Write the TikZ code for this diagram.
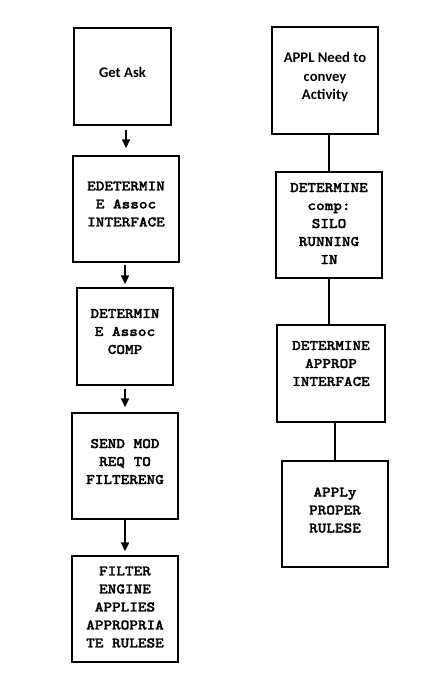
\documentclass[tikz,border=0pt]{standalone}
\usepackage{fontspec}
\usetikzlibrary{arrows.meta}
\newfontfamily\calib{Carlito}
\newfontfamily\couri{lmmonolt10-bold}[Extension=.otf, FakeStretch=1.12, FakeBold=1.6]

\tikzset{
    stepbox/.style={draw, line width=1.3pt, align=center, inner sep=2pt,
        font=\couri\fontsize{11}{13.5}\selectfont},
    sansbox/.style={stepbox, font=\calib\bfseries\fontsize{11}{13.9}\selectfont},
    lift/.style={text depth=#1},
}

\begin{document}
\begin{tikzpicture}[x=0.75pt,y=-0.75pt,>={Triangle[length=6.5pt,width=6pt]}]

    \useasboundingbox (0,0) rectangle (422,684);

    %%% LEFT COLUMN

    \node[sansbox, lift=6.8pt, minimum width=72.75pt, minimum height=72.75pt] (getask) at (122.5,76.5) {Get Ask};
    \node[stepbox, lift=7.5pt, minimum width=79.5pt, minimum height=79.5pt] (associf) at (126,209) {EDETERMIN\\E Assoc\\INTERFACE};
    \node[stepbox, lift=7.5pt, minimum width=72pt, minimum height=72.75pt] (assoccomp) at (125,336.5) {DETERMIN\\E Assoc\\COMP};
    \node[stepbox, lift=6.75pt, minimum width=79.5pt, minimum height=79.5pt] (sendmod) at (125,466) {SEND MOD\\REQ TO\\FILTERENG};
    \node[stepbox, lift=3pt, minimum width=79.5pt, minimum height=79.5pt] (filtereng) at (125,609) {FILTER\\ENGINE\\APPLIES\\APPROPRIA\\TE RULESE};

    % Arrows
    \draw[->, line width=1.3pt, shorten <=3pt, shorten >=5.25pt] (associf.north |- getask.south) -- (associf.north);
    \draw[->, line width=1.3pt, shorten <=1.5pt, shorten >=2.25pt] (assoccomp.north |- associf.south) -- (assoccomp.north);
    \draw[->, line width=1.3pt, shorten <=2.25pt, shorten >=3.75pt] (sendmod.north |- assoccomp.south) -- (sendmod.north);
    \draw[->, line width=1.3pt, shorten >=3pt] (sendmod.south) -- (filtereng.north);

    %%% RIGHT COLUMN

    \node[sansbox, lift=6.9pt, minimum width=79.5pt, minimum height=80.25pt] (applneed) at (325,80.5) {APPL Need to\\convey\\Activity};
    \node[stepbox, lift=2.2pt, minimum width=79.5pt, minimum height=79.5pt] (silo) at (329,225) {DETERMINE\\comp:\\SILO\\RUNNING\\IN};
    \node[stepbox, lift=15pt, minimum width=81pt, minimum height=72.75pt] (approp) at (331,373.5) {DETERMINE\\APPROP\\INTERFACE};
    \node[stepbox, lift=6pt, minimum width=79.5pt, minimum height=79.5pt] (proper) at (335,514) {APPLy\\PROPER\\RULESE};

    % Lines
    \draw[line width=1.3pt] (applneed.south -| silo.north) -- (silo.north);
    \draw[line width=1.3pt] (silo.south) -- (silo.south |- approp.north);
    \draw[line width=1.3pt] (approp.south -| proper.north) -- (proper.north);

\end{tikzpicture}
\end{document}
